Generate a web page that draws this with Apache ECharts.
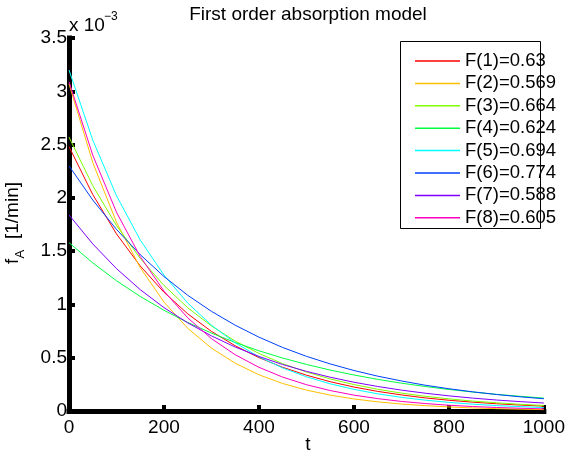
<!DOCTYPE html>
<html>
<head>
<meta charset="utf-8">
<script src="https://cdn.jsdelivr.net/npm/echarts@6/dist/echarts.min.js"></script>
<style>
html,body{margin:0;padding:0;background:#fff;}
#chart{width:568px;height:453px;}
</style>
</head>
<body>
<div id="chart"></div>
<script>
// time points (min)
var tValues = [0,50,100,150,200,250,300,350,400,450,500,550,600,650,700,750,800,850,900,950,1000];
// f_A values, in units of 1e-3 1/min
var f1 = [2.480,2.031,1.662,1.361,1.114,0.912,0.747,0.612,0.501,0.410,0.336,0.275,0.225,0.184,0.151,0.123,0.101,0.083,0.068,0.056,0.045];
var f2 = [3.070,2.332,1.771,1.345,1.022,0.776,0.590,0.448,0.340,0.258,0.196,0.149,0.113,0.086,0.065,0.050,0.038,0.029,0.022,0.017,0.013];
var f3 = [2.570,2.115,1.740,1.432,1.178,0.969,0.798,0.656,0.540,0.444,0.366,0.301,0.248,0.204,0.168,0.138,0.114,0.093,0.077,0.063,0.052];
var f4 = [1.580,1.390,1.222,1.075,0.945,0.831,0.731,0.643,0.565,0.497,0.437,0.384,0.338,0.297,0.261,0.230,0.202,0.178,0.156,0.138,0.121];
var f5 = [3.200,2.543,2.020,1.605,1.275,1.013,0.805,0.640,0.508,0.404,0.321,0.255,0.203,0.161,0.128,0.102,0.081,0.064,0.051,0.041,0.032];
var f6 = [2.300,1.980,1.704,1.467,1.262,1.086,0.935,0.805,0.693,0.596,0.513,0.442,0.380,0.327,0.282,0.242,0.209,0.180,0.155,0.133,0.115];
var f7 = [1.840,1.568,1.336,1.139,0.970,0.827,0.705,0.600,0.512,0.436,0.372,0.317,0.270,0.230,0.196,0.167,0.142,0.121,0.103,0.088,0.075];
var f8 = [3.090,2.401,1.865,1.449,1.125,0.874,0.679,0.528,0.410,0.318,0.247,0.192,0.149,0.116,0.090,0.070,0.054,0.042,0.033,0.026,0.020];
var seriesNames = ['F(1)=0.63','F(2)=0.569','F(3)=0.664','F(4)=0.624','F(5)=0.694','F(6)=0.774','F(7)=0.588','F(8)=0.605'];
var seriesValues = [f1,f2,f3,f4,f5,f6,f7,f8];
var colors = ['#ff0000','#ffbf00','#80ff00','#00ff40','#00ffff','#0040ff','#8000ff','#ff00bf'];
var titleText = 'First order absorption model';
var xName = 't';

var FONT = '"Liberation Sans", Arial, Helvetica, sans-serif';
var chart = echarts.init(document.getElementById('chart'), null, {renderer:'canvas'});

var series = seriesValues.map(function(vals, i){
  return {
    type:'line',
    name: seriesNames[i],
    data: tValues.map(function(t, j){ return [t, vals[j]]; }),
    showSymbol:false,
    symbol:'none',
    smooth:false,
    lineStyle:{color:colors[i], width:1},
    itemStyle:{color:colors[i]},
    emphasis:{disabled:true},
    z:2
  };
});

var option = {
  animation:false,
  backgroundColor:'#ffffff',
  color: colors,
  grid:{left:69, top:38, width:478, height:373, containLabel:false},
  xAxis:{
    type:'value', min:0, max:1000, interval:200,
    axisLine:{show:true, lineStyle:{color:'#000', width:5, cap:'square'}},
    axisTick:{show:true, inside:true, length:6, lineStyle:{color:'#000', width:4}},
    axisLabel:{color:'#000', fontSize:19, fontFamily:FONT, margin:7, formatter:function(v){return String(v);}},
    splitLine:{show:false}
  },
  yAxis:{
    type:'value', min:0, max:3.5, interval:0.5,
    axisLine:{show:true, lineStyle:{color:'#000', width:5, cap:'square'}},
    axisTick:{show:true, inside:true, length:6, lineStyle:{color:'#000', width:4}},
    axisLabel:{color:'#000', fontSize:19, fontFamily:FONT, margin:2, formatter:function(v){return String(v);}},
    splitLine:{show:false}
  },
  legend:{
    orient:'vertical',
    left:410, top:45,
    icon:'rect',
    itemWidth:45, itemHeight:1.5,
    itemGap:0.4,
    data: seriesNames,
    textStyle:{color:'#000', fontSize:18.5, fontFamily:FONT, lineHeight:22},
    selectedMode:false,
    z:5
  },
  graphic:[
    {type:'rect', shape:{x:400.5, y:41.5, width:140, height:187}, style:{fill:'#fff', stroke:'#000', lineWidth:1}, z:1},
    {type:'text', x:308, y:15, style:{text:titleText, font:'19px '+FONT, fill:'#000', align:'center', verticalAlign:'middle'}},
    {type:'text', x:69, y:26, style:{text:'x 10', font:'19px '+FONT, fill:'#000', align:'left', verticalAlign:'middle'}},
    {type:'text', x:104, y:17, style:{text:'\u22123', font:'12px '+FONT, fill:'#000', align:'left', verticalAlign:'middle'}},
    {type:'text', x:308, y:445, style:{text:xName, font:'19px '+FONT, fill:'#000', align:'center', verticalAlign:'middle'}},
    {type:'group', x:22, y:264, rotation:Math.PI/2, children:[
      {type:'text', x:0, y:0, style:{text:'f', font:'19px '+FONT, fill:'#000', align:'left', verticalAlign:'bottom'}},
      {type:'text', x:5.5, y:5, style:{text:'A', font:'13px '+FONT, fill:'#000', align:'left', verticalAlign:'bottom'}},
      {type:'text', x:25, y:0, style:{text:'[1/min]', font:'19px '+FONT, fill:'#000', align:'left', verticalAlign:'bottom'}}
    ]}
  ],
  series: series
};
chart.setOption(option);
</script>
</body>
</html>
